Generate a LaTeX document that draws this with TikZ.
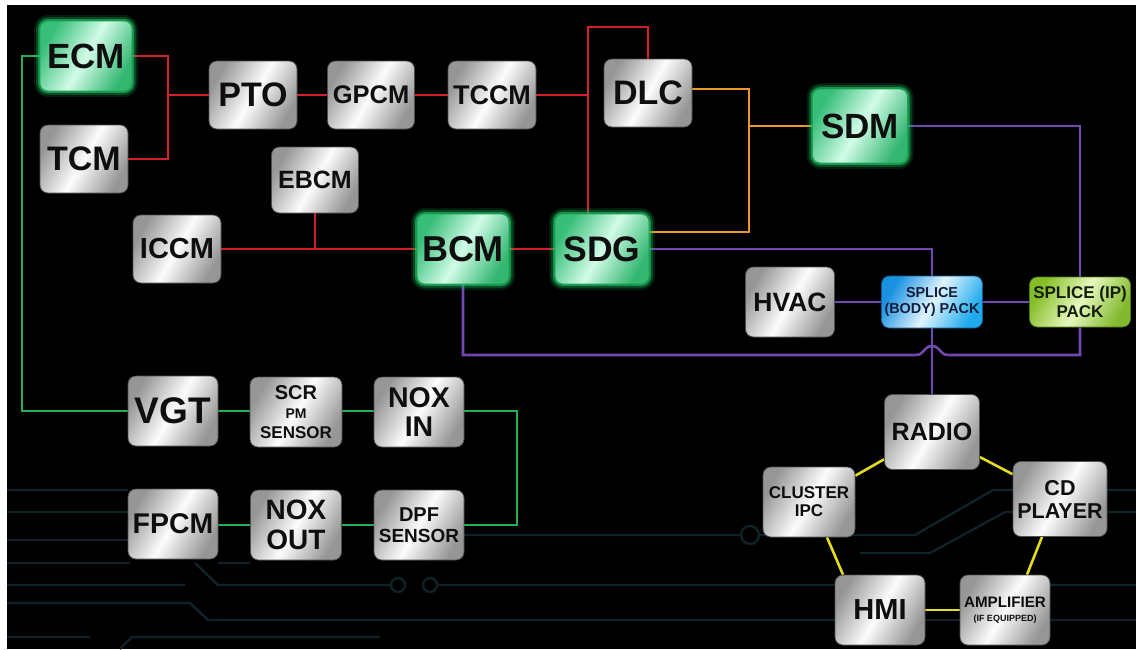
\documentclass[tikz,border=0pt]{standalone}
\usepackage{fontspec}
\setmainfont{Liberation Sans}
\usetikzlibrary{calc,backgrounds}
\newcommand\fsz[2]{\fontsize{#1}{#2}\selectfont}
\definecolor{redl}{RGB}{212,30,42}
\definecolor{orl}{RGB}{240,150,40}
\definecolor{pul}{RGB}{112,72,175}
\definecolor{grl}{RGB}{40,175,85}
\definecolor{yel}{RGB}{228,220,30}
\definecolor{trace}{RGB}{14,34,40}
\definecolor{txt}{RGB}{14,14,14}
\definecolor{silE}{RGB}{150,150,150}
\definecolor{silM}{RGB}{252,252,252}
\definecolor{silD}{RGB}{80,80,80}
\definecolor{grE}{RGB}{55,190,120}
\definecolor{grE2}{RGB}{50,182,112}
\definecolor{grM}{RGB}{210,252,232}
\definecolor{grD}{RGB}{30,160,85}
\definecolor{glowA}{RGB}{25,200,95}
\definecolor{glowB}{RGB}{35,210,110}
\definecolor{blE}{RGB}{25,145,225}
\definecolor{blE2}{RGB}{30,170,235}
\definecolor{blM}{RGB}{225,245,255}
\definecolor{blD}{RGB}{20,90,150}
\definecolor{blT}{RGB}{20,30,60}
\definecolor{ygE}{RGB}{135,190,40}
\definecolor{ygE2}{RGB}{130,185,45}
\definecolor{ygM}{RGB}{230,248,190}
\definecolor{ygD}{RGB}{80,120,20}
\definecolor{ygT}{RGB}{20,30,10}
\tikzset{
  box/.style={rounded corners=8pt, inner sep=0pt, align=center, text=txt,
    font=\bfseries, draw=silD, line width=0.7pt,
    left color=silE, right color=silE, middle color=silM, shading angle=60,
    minimum width=88pt, minimum height=68pt},
  gbox/.style={box, minimum width=92pt, minimum height=70pt, draw=grD,
    left color=grE, right color=grE2, middle color=grM, shading angle=60,
    preaction={draw=glowA, line width=12pt, opacity=0.14},
    preaction={draw=glowA, line width=8pt, opacity=0.25},
    preaction={draw=glowB, line width=4pt, opacity=0.55}},
  bbox/.style={box, minimum width=101pt, minimum height=52pt, text=blT, draw=blD,
    left color=blE, right color=blE2, middle color=blM, shading angle=60},
  ybox/.style={box, minimum width=101pt, minimum height=50pt, text=ygT, draw=ygD,
    left color=ygE, right color=ygE2, middle color=ygM, shading angle=60},
  wire/.style={line width=2.6pt},
  tr/.style={draw=trace, line width=2.4pt},
}
\begin{document}
\begin{tikzpicture}[x=1pt,y=-1pt]
\useasboundingbox (0,0) rectangle (1136,649);
% nodes
\node[gbox, font=\bfseries\fsz{35}{36}] (ecm) at (86,56) {ECM};
\node[box, font=\bfseries\fsz{34}{35}] (tcm) at (84,159) {TCM};
\node[box, font=\bfseries\fsz{34}{35}] (pto) at (253,95) {PTO};
\node[box, minimum width=87pt, font=\bfseries\fsz{25.5}{27}] (gpcm) at (371,95) {GPCM};
\node[box, font=\bfseries\fsz{27}{28}] (tccm) at (492,95) {TCCM};
\node[box, font=\bfseries\fsz{34}{35}] (dlc) at (648,93) {DLC};
\node[gbox, minimum width=95pt, minimum height=74pt, font=\bfseries\fsz{35}{36}] (sdm) at (860,126) {SDM};
\node[box, minimum width=87pt, minimum height=66pt, font=\bfseries\fsz{25}{26}] (ebcm) at (315,180) {EBCM};
\node[box, font=\bfseries\fsz{29}{30}] (iccm) at (177,249) {ICCM};
\node[gbox, font=\bfseries\fsz{36}{37}] (bcm) at (463,249) {BCM};
\node[gbox, minimum width=94pt, font=\bfseries\fsz{35.5}{36}] (sdg) at (602,249) {SDG};
\node[box, minimum width=89pt, minimum height=70pt, font=\bfseries\fsz{26.5}{27}] (hvac) at (790,302) {HVAC};
\node[bbox, font=\bfseries\fsz{14.4}{16}] (spb) at (932,302) {SPLICE\\(BODY) PACK};
\node[ybox, font=\bfseries\fsz{17}{19}] (spip) at (1080,302) {SPLICE (IP)\\PACK};
\node[box, minimum width=90pt, minimum height=70pt, font=\bfseries\fsz{37}{38}] (vgt) at (173,411) {VGT};
\node[box, minimum width=92pt, minimum height=70pt, font=\bfseries\fsz{17}{18}] (scr) at (296,412) {{\fsz{20}{20}SCR}\\[1pt]{\fsz{14}{14}PM}\\[1.5pt]SENSOR};
\node[box, minimum width=90pt, minimum height=70pt, font=\bfseries\fsz{28.5}{29.5}] (noxin) at (419,412) {NOX\\IN};
\node[box, minimum width=90pt, minimum height=70pt, font=\bfseries\fsz{28.5}{29}] (fpcm) at (173,524) {FPCM};
\node[box, minimum width=91pt, minimum height=70pt, font=\bfseries\fsz{28}{29.5}] (noxout) at (296,525) {NOX\\OUT};
\node[box, minimum width=90pt, minimum height=70pt, font=\bfseries\fsz{19}{21}] (dpf) at (419,525) {{\fsz{20}{20}DPF}\\SENSOR};
\node[box, minimum width=95pt, minimum height=75pt, font=\bfseries\fsz{25}{26}] (radio) at (932,432) {RADIO};
\node[box, minimum width=92pt, minimum height=70pt, font=\bfseries\fsz{17}{18}] (cl) at (809,502) {CLUSTER\\IPC};
\node[box, minimum width=94pt, minimum height=75pt, font=\bfseries\fsz{21.5}{23}] (cd) at (1060,499) {CD\\PLAYER};
\node[box, minimum width=90pt, minimum height=70pt, font=\bfseries\fsz{29}{30}] (hmi) at (880,610) {HMI};
\node[box, minimum width=90pt, minimum height=70pt, font=\bfseries\fsz{15.2}{14}] (amp) at (1005,610) {AMPLIFIER\\{\fsz{9}{9}(IF EQUIPPED)}};
% junction coordinates
\coordinate (rj) at (168,95);
\coordinate (rv) at (588,27);
\coordinate (oj) at (749,126);
\coordinate (gj) at (22,56);
\coordinate (gr) at (517,411);
\coordinate (h1) at (916,355);
\coordinate (hp) at (932,346);
\coordinate (h2) at (948,355);
\begin{scope}[on background layer]
  \fill[white] (0,0) rectangle (1136,649);
  \fill[black] (7,5) rectangle (1136,649);
  % faint circuit traces
  \draw[tr] (7,490) -- (128,490);
  \draw[tr] (7,512) -- (128,512);
  \draw[tr] (7,540) -- (128,540);
  \draw[tr] (464,535) -- (740,535);
  \draw[tr] (750,535) circle (9);
  \draw[tr] (760,535) -- (915,535) -- (993,490) -- (1136,490);
  \draw[tr] (860,553) -- (930,553) -- (1005,512) -- (1136,512);
  \draw[tr] (7,563) -- (130,563);
  \draw[tr] (218,563) -- (250,563);
  \draw[tr] (7,585) -- (185,585);
  \draw[tr] (195,563) -- (218,585) -- (391,585);
  \draw[tr] (398,585) circle (7);
  \draw[tr] (430,585) circle (7);
  \draw[tr] (437,585) -- (835,585);
  \draw[tr] (1050,585) -- (1136,585);
  \draw[tr] (7,603) -- (190,603) -- (208,620) -- (835,620);
  \draw[tr] (925,620) -- (960,620);
  \draw[tr] (1050,620) -- (1136,620);
  \draw[tr] (7,637) -- (90,637);
  \draw[tr] (120,649) -- (132,637) -- (380,637);
  % red
  \draw[wire, redl] (ecm.east) -| (rj) |- (tcm.east);
  \draw[wire, redl] (rj) -- (pto.west);
  \draw[wire, redl] (pto.east) -- (gpcm.west);
  \draw[wire, redl] (gpcm.east) -- (tccm.west);
  \draw[wire, redl] (tccm.east) -- (tccm.east -| rv);
  \draw[wire, redl] (dlc.north) |- (rv) -- (rv |- sdg.north);
  \draw[wire, redl] (iccm.east) -- (bcm.west);
  \draw[wire, redl] (ebcm.south) -- (ebcm.south |- bcm.west);
  \draw[wire, redl] (bcm.east) -- (sdg.west);
  % orange
  \draw[wire, orl] ([yshift=4pt]dlc.east) -| (oj) |- ([yshift=17pt]sdg.east);
  \draw[wire, orl] (oj) -- (sdm.west);
  % purple
  \draw[wire, pul] (sdm.east) -| (spip.north);
  \draw[wire, pul] (sdg.east) -| (spb.north);
  \draw[wire, pul] (hvac.east) -- (spb.west);
  \draw[wire, pul] (spb.east) -- (spip.west);
  \draw[wire, pul] (spb.south) -- (radio.north);
  \draw[wire, pul] (bcm.south) |- (h1) .. controls (924,355) and (924,346) .. (hp)
     .. controls (940,346) and (940,355) .. (h2) -| (spip.south);
  % green
  \draw[wire, grl] (ecm.west) -- (gj) |- (vgt.west);
  \draw[wire, grl] (vgt.east) -- (vgt.east -| scr.west);
  \draw[wire, grl] (scr.east |- gr) -- (noxin.west |- gr);
  \draw[wire, grl] (noxin.east |- gr) -- (gr) |- (dpf.east);
  \draw[wire, grl] (dpf.west) -- (noxout.east);
  \draw[wire, grl] (noxout.west) -- (noxout.west -| fpcm.east);
  % yellow
  \draw[wire, yel] (radio) -- (cl);
  \draw[wire, yel] (radio) -- (cd);
  \draw[wire, yel] ($(cl.south)+(18,0)$) -- ($(hmi.north)+(-37,0)$);
  \draw[wire, yel] ($(cd.south)+(-18,0)$) -- ($(amp.north)+(22,0)$);
  \draw[wire, yel] (hmi.east) -- (amp.west);
\end{scope}
\end{tikzpicture}
\end{document}
